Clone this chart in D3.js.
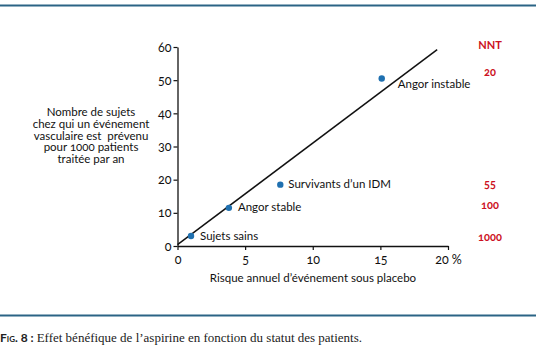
<!DOCTYPE html>
<html><head><meta charset="utf-8">
<script src="https://cdn.jsdelivr.net/npm/d3@7"></script>
<style>
html,body{margin:0;padding:0;background:#fff;}
svg{display:block;}
.num{font-variant-numeric:oldstyle-nums;font-feature-settings:"onum";}
</style></head>
<body><svg id="c" width="536" height="354"></svg>
<script>
const categories = ["Sujets sains", "Angor stable", "Survivants d\u2019un IDM", "Angor instable"];
const riskPlacebo = [1.0, 3.8, 7.6, 15.1];
const eventsPrevented = [3, 11.5, 18.5, 50.5];
const nntLabels = ["1000", "100", "55", "20"];
const nntYValues = [2.8, 12.3, 18.8, 52.5];
const regressionX = [0, 19.2];
const regressionY = [0.4, 59.2];
const xTicks = [0, 5, 10, 15, 20];
const yTicks = [0, 10, 20, 30, 40, 50, 60];

const svg = d3.select("#c");
const font = "Lato, 'Open Sans', sans-serif";
const x = d3.scaleLinear().domain([0, 20]).range([177.5, 448]);
const y = d3.scaleLinear().domain([0, 60]).range([246, 47]);

// top & bottom rules
svg.append("rect").attr("x",0).attr("y",4.5).attr("width",536).attr("height",2).attr("fill","#2b6485");
svg.append("rect").attr("x",0).attr("y",314.5).attr("width",536).attr("height",2).attr("fill","#2b6485");

const xAxis = svg.append("g").attr("transform",`translate(0,${y(0)})`)
  .call(d3.axisBottom(x).tickValues(xTicks).tickSize(4).tickSizeOuter(0).tickFormat(d=>d===20?"20 %":d));
const yAxis = svg.append("g").attr("transform",`translate(${x(0)},0)`)
  .call(d3.axisLeft(y).tickValues(yTicks).tickSize(4).tickSizeOuter(0));
[xAxis,yAxis].forEach(a=>{
  a.select(".domain").attr("stroke","#111").attr("stroke-width",1.3);
  a.selectAll(".tick line").attr("stroke","#111").attr("stroke-width",1.2);
  a.selectAll("text").attr("class","num").attr("font-family",font).attr("font-size",12.5).attr("fill","#111");
});
xAxis.selectAll(".tick text").attr("dy","0.71em").attr("y",9);
yAxis.selectAll(".tick text").attr("x",-6);

// regression line
svg.append("line")
  .attr("x1",x(regressionX[0])).attr("y1",y(regressionY[0]))
  .attr("x2",x(regressionX[1])).attr("y2",y(regressionY[1]))
  .attr("stroke","#111").attr("stroke-width",1.5);

// points
svg.selectAll("circle.pt").data(categories).join("circle").attr("class","pt")
  .attr("cx",(d,i)=>x(riskPlacebo[i])).attr("cy",(d,i)=>y(eventsPrevented[i]))
  .attr("r",3.2).attr("fill","#1f70b0");

const labelDx = [9, 9, 8, 16];
const labelDy = [4, 3, 3, 9];
svg.selectAll("text.lab").data(categories).join("text").attr("class","lab")
  .attr("x",(d,i)=>x(riskPlacebo[i])+labelDx[i]).attr("y",(d,i)=>y(eventsPrevented[i])+labelDy[i])
  .attr("font-family",font).attr("font-size",11.5).attr("fill","#111").text(d=>d);

// NNT column
const nntX = 490;
svg.append("text").attr("x",nntX).attr("y",49).attr("text-anchor","middle")
  .attr("font-family",font).attr("font-size",11).attr("font-weight","bold").attr("fill","#cc1122").text("NNT");
svg.selectAll("text.nnt").data(nntLabels).join("text").attr("class","nnt num")
  .attr("x",nntX).attr("y",(d,i)=>y(nntYValues[i])+4).attr("text-anchor","middle")
  .attr("font-family",font).attr("font-size",11).attr("font-weight","bold").attr("fill","#cc1122").text(d=>d);

// y axis title
const yTitle = ["Nombre de sujets","chez qui un événement","vasculaire est  prévenu","pour 1000 patients","traitée par an"];
svg.append("text").attr("font-family",font).attr("font-size",11.5).attr("fill","#111")
  .attr("text-anchor","middle").attr("class","num").style("white-space","pre")
  .selectAll("tspan").data(yTitle).join("tspan")
  .attr("x",91).attr("y",(d,i)=>116+i*11.8).text(d=>d);

// x axis title
svg.append("text").attr("x",313).attr("y",282).attr("text-anchor","middle")
  .attr("font-family",font).attr("font-size",11.5).attr("fill","#111")
  .text("Risque annuel d\u2019événement sous placebo");

// caption
const cap = svg.append("text").attr("x",0).attr("y",342).attr("fill","#222");
cap.append("tspan").attr("font-family",font).attr("font-weight","bold").attr("font-size",12).style("font-variant","small-caps").text("Fig. 8 : ");
cap.append("tspan").attr("font-family","'Liberation Serif', serif").attr("font-size",13).text("Effet bénéfique de l\u2019aspirine en fonction du statut des patients.");
</script></body></html>
